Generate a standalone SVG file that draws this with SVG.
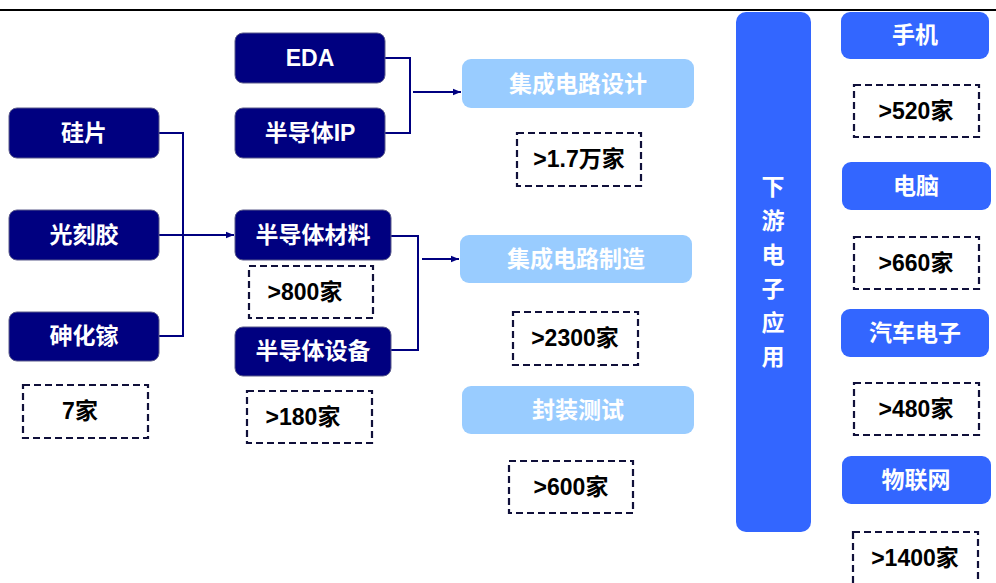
<svg xmlns="http://www.w3.org/2000/svg" width="996" height="583" viewBox="0 0 996 583">
<defs>
<marker id="arr" viewBox="0 0 10 10" refX="10" refY="5" markerWidth="8" markerHeight="8" markerUnits="userSpaceOnUse" orient="auto"><path d="M0,1 L10,5 L0,9 z" fill="#000080"/></marker>
<style>
.dk{fill:#000080;stroke:#5a5a8a;stroke-width:1}
.lb{fill:#99CCFF}
.bl{fill:#3366FF}
.db{fill:#fff;stroke:#10103a;stroke-width:2.2;stroke-dasharray:7,4}
.t{font-family:"Liberation Sans","Noto Sans CJK SC",sans-serif;font-weight:bold;font-size:23px;text-anchor:middle;dominant-baseline:central}
.w{fill:#fff}
.k{fill:#000}
.c{fill:none;stroke:#000080;stroke-width:2}
</style>
</defs>
<rect width="996" height="583" fill="#fff"/>
<line x1="0" y1="10" x2="996" y2="10" stroke="#000" stroke-width="2"/>
<g id="connectors">
<path class="c" d="M159,133 H183 V336 H159"/>
<path class="c" d="M159,235 H234" marker-end="url(#arr)"/>
<path class="c" d="M385,58 H410 V133 H385"/>
<path class="c" d="M413,92 H461" marker-end="url(#arr)"/>
<path class="c" d="M391,236 H418 V350 H391"/>
<path class="c" d="M422,259 H459" marker-end="url(#arr)"/>
</g>
<g id="n-eda"><rect class="dk" x="235" y="33" width="150" height="50" rx="8"/><text class="t w" x="310" y="58">EDA</text></g>
<g id="n-ip"><rect class="dk" x="235" y="108" width="150" height="50" rx="8"/><text class="t w" x="310" y="133">半导体IP</text></g>
<g id="n-si"><rect class="dk" x="9" y="108" width="150" height="50" rx="8"/><text class="t w" x="84" y="133">硅片</text></g>
<g id="n-pr"><rect class="dk" x="9" y="210" width="150" height="50" rx="8"/><text class="t w" x="84" y="235">光刻胶</text></g>
<g id="n-gaas"><rect class="dk" x="9" y="312" width="150" height="49" rx="8"/><text class="t w" x="84" y="336">砷化镓</text></g>
<g id="n-7"><rect class="db" x="23" y="385" width="125" height="53"/><text class="t k" x="80" y="411">7家</text></g>
<g id="n-mat"><rect class="dk" x="235" y="210" width="156" height="50" rx="8"/><text class="t w" x="313" y="235">半导体材料</text></g>
<g id="n-800"><rect class="db" x="249" y="266" width="124" height="52"/><text class="t k" x="305" y="292">&gt;800家</text></g>
<g id="n-eq"><rect class="dk" x="235" y="327" width="156" height="49" rx="8"/><text class="t w" x="313" y="351">半导体设备</text></g>
<g id="n-180"><rect class="db" x="247" y="391" width="125" height="52"/><text class="t k" x="303" y="417">&gt;180家</text></g>
<g id="n-icd"><rect class="lb" x="462" y="59" width="232" height="49" rx="9"/><text class="t w" x="578" y="84">集成电路设计</text></g>
<g id="n-17"><rect class="db" x="517" y="133" width="124" height="53"/><text class="t k" x="579" y="159">&gt;1.7万家</text></g>
<g id="n-icm"><rect class="lb" x="460" y="235" width="232" height="48" rx="9"/><text class="t w" x="576" y="259">集成电路制造</text></g>
<g id="n-2300"><rect class="db" x="513" y="312" width="125" height="53"/><text class="t k" x="575" y="338">&gt;2300家</text></g>
<g id="n-pkg"><rect class="lb" x="462" y="386" width="232" height="48" rx="9"/><text class="t w" x="578" y="410">封装测试</text></g>
<g id="n-600"><rect class="db" x="509" y="461" width="124" height="52"/><text class="t k" x="571" y="487">&gt;600家</text></g>
<g id="n-down"><rect class="bl" x="736" y="12" width="75" height="520" rx="10"/>
<text class="t w" x="773" y="187">下</text><text class="t w" x="773" y="221">游</text><text class="t w" x="773" y="255">电</text><text class="t w" x="773" y="289">子</text><text class="t w" x="773" y="323">应</text><text class="t w" x="773" y="357">用</text></g>
<g id="n-phone"><rect class="bl" x="841" y="12" width="148" height="47" rx="9"/><text class="t w" x="915" y="35">手机</text></g>
<g id="n-520"><rect class="db" x="854" y="85" width="125" height="52"/><text class="t k" x="916" y="111">&gt;520家</text></g>
<g id="n-pc"><rect class="bl" x="842" y="162" width="149" height="48" rx="9"/><text class="t w" x="916" y="186">电脑</text></g>
<g id="n-660"><rect class="db" x="854" y="237" width="125" height="52"/><text class="t k" x="916" y="263">&gt;660家</text></g>
<g id="n-auto"><rect class="bl" x="841" y="309" width="148" height="48" rx="9"/><text class="t w" x="915" y="333">汽车电子</text></g>
<g id="n-480"><rect class="db" x="854" y="383" width="125" height="52"/><text class="t k" x="916" y="409">&gt;480家</text></g>
<g id="n-iot"><rect class="bl" x="842" y="456" width="149" height="48" rx="9"/><text class="t w" x="916" y="480">物联网</text></g>
<g id="n-1400"><rect class="db" x="853" y="532" width="125" height="60"/><text class="t k" x="915" y="558">&gt;1400家</text></g>
</svg>
